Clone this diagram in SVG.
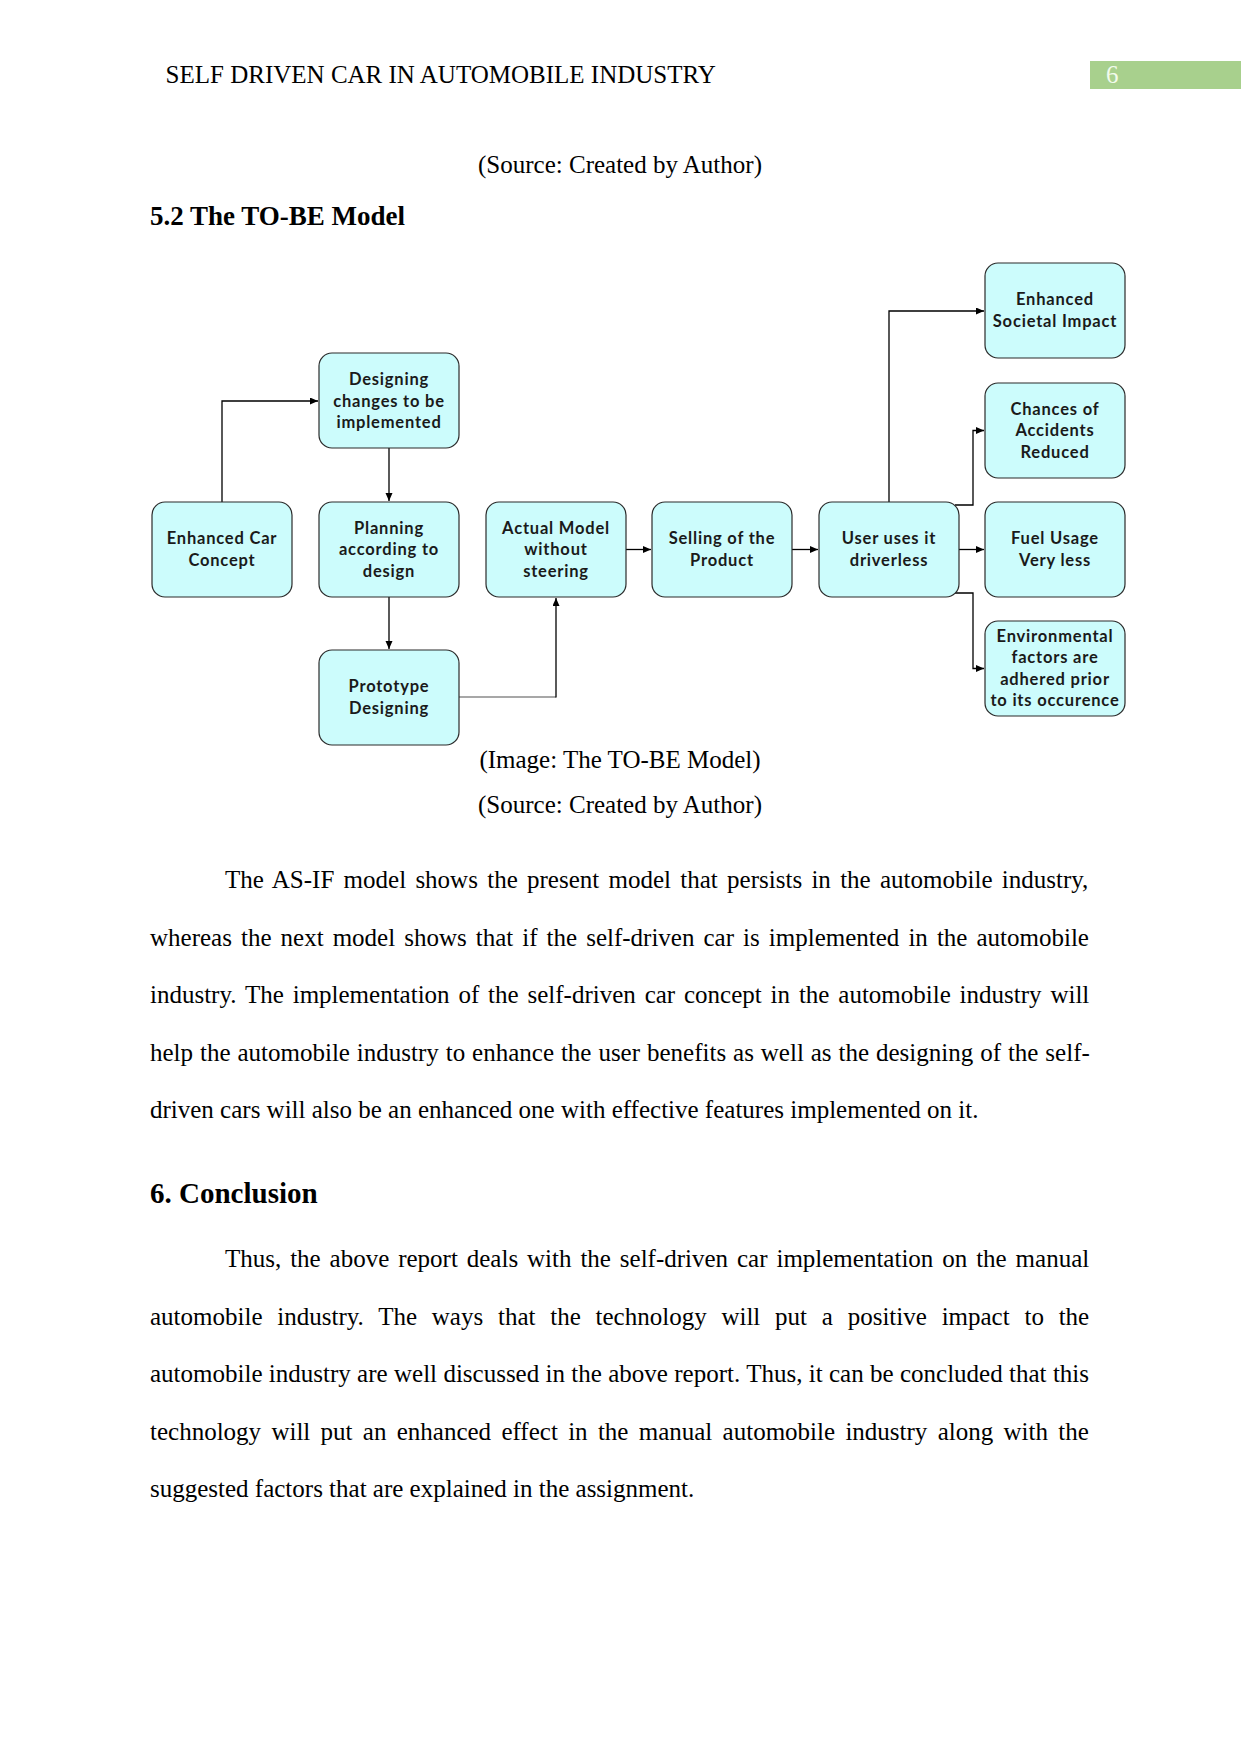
<svg xmlns="http://www.w3.org/2000/svg" width="1241" height="1754" viewBox="0 0 1241 1754">
<style>
.page{font-family:"Liberation Serif","Times New Roman",serif;font-size:25px;fill:#000}
.bold{font-weight:bold;font-size:27px}
.box{fill:#CCFCFC;stroke:#2b2b2b;stroke-width:1.2}
.lbl{font-family:Lato,"Open Sans",sans-serif;font-weight:bold;font-size:16.5px;fill:#1a1a1a;text-anchor:middle;letter-spacing:0.8px}
.conn{fill:none;stroke:#000;stroke-width:1.3}
</style>
<defs>
<marker id="arr" markerUnits="userSpaceOnUse" markerWidth="9" markerHeight="8" refX="8" refY="3.5" orient="auto">
<path d="M0,0 L8,3.5 L0,7 z" fill="#000"/>
</marker>
</defs>
<rect width="1241" height="1754" fill="#fff"/>
<g id="header">
<text class="page" x="165.6" y="83">SELF DRIVEN CAR IN AUTOMOBILE INDUSTRY</text>
<rect x="1090" y="61" width="151" height="28" fill="#A8D08D"/>
<text class="page" x="1106" y="83" style="fill:#F2FBEC">6</text>
</g>
<text class="page" x="620" y="173" text-anchor="middle">(Source: Created by Author)</text>
<text class="page bold" x="150" y="225">5.2 The TO-BE Model</text>

<g id="connectors">
<path class="conn" d="M222,502 V401 H318" marker-end="url(#arr)"/>
<path class="conn" d="M389,448 V501" marker-end="url(#arr)"/>
<path class="conn" d="M389,597 V649" marker-end="url(#arr)"/>
<path class="conn" d="M459,697 H556" style="stroke:#8a8a8a"/>
<path class="conn" d="M556,697.6 V598" marker-end="url(#arr)"/>
<path class="conn" d="M626,549.5 H651" marker-end="url(#arr)"/>
<path class="conn" d="M792,549.5 H818" marker-end="url(#arr)"/>
<path class="conn" d="M889,502 V311 H984" marker-end="url(#arr)"/>
<path class="conn" d="M955,505 H973 V430.5 H984" marker-end="url(#arr)"/>
<path class="conn" d="M959,549.5 H984" marker-end="url(#arr)"/>
<path class="conn" d="M955,593 H973 V668.5 H984" marker-end="url(#arr)"/>
</g>

<g id="n-enhanced-car">
<rect class="box" x="152" y="502" width="140" height="95" rx="13"/>
<text class="lbl" x="222" y="544">Enhanced Car</text>
<text class="lbl" x="222" y="566">Concept</text>
</g>
<g id="n-designing-changes">
<rect class="box" x="319" y="353" width="140" height="95" rx="13"/>
<text class="lbl" x="389" y="385">Designing</text>
<text class="lbl" x="389" y="406.5">changes to be</text>
<text class="lbl" x="389" y="428">implemented</text>
</g>
<g id="n-planning">
<rect class="box" x="319" y="502" width="140" height="95" rx="13"/>
<text class="lbl" x="389" y="533.5">Planning</text>
<text class="lbl" x="389" y="555">according to</text>
<text class="lbl" x="389" y="576.5">design</text>
</g>
<g id="n-prototype">
<rect class="box" x="319" y="650" width="140" height="95" rx="13"/>
<text class="lbl" x="389" y="692">Prototype</text>
<text class="lbl" x="389" y="714">Designing</text>
</g>
<g id="n-actual-model">
<rect class="box" x="486" y="502" width="140" height="95" rx="13"/>
<text class="lbl" x="556" y="533.5">Actual Model</text>
<text class="lbl" x="556" y="555">without</text>
<text class="lbl" x="556" y="576.5">steering</text>
</g>
<g id="n-selling">
<rect class="box" x="652" y="502" width="140" height="95" rx="13"/>
<text class="lbl" x="722" y="544">Selling of the</text>
<text class="lbl" x="722" y="566">Product</text>
</g>
<g id="n-user">
<rect class="box" x="819" y="502" width="140" height="95" rx="13"/>
<text class="lbl" x="889" y="544">User uses it</text>
<text class="lbl" x="889" y="566">driverless</text>
</g>
<g id="n-societal">
<rect class="box" x="985" y="263" width="140" height="95" rx="13"/>
<text class="lbl" x="1055" y="305">Enhanced</text>
<text class="lbl" x="1055" y="327">Societal Impact</text>
</g>
<g id="n-accidents">
<rect class="box" x="985" y="383" width="140" height="95" rx="13"/>
<text class="lbl" x="1055" y="414.5">Chances of</text>
<text class="lbl" x="1055" y="436">Accidents</text>
<text class="lbl" x="1055" y="457.5">Reduced</text>
</g>
<g id="n-fuel">
<rect class="box" x="985" y="502" width="140" height="95" rx="13"/>
<text class="lbl" x="1055" y="544">Fuel Usage</text>
<text class="lbl" x="1055" y="566">Very less</text>
</g>
<g id="n-environmental">
<rect class="box" x="985" y="621" width="140" height="95" rx="13"/>
<text class="lbl" x="1055" y="641.75">Environmental</text>
<text class="lbl" x="1055" y="663.25">factors are</text>
<text class="lbl" x="1055" y="684.75">adhered prior</text>
<text class="lbl" x="1055" y="706.25">to its occurence</text>
</g>

<text class="page" x="620" y="768" text-anchor="middle">(Image: The TO-BE Model)</text>
<text class="page" x="620" y="813" text-anchor="middle">(Source: Created by Author)</text>

<g id="body1">
<text class="page" x="225" y="888" word-spacing="3.05">The AS-IF model shows the present model that persists in the automobile industry,</text>
<text class="page" x="150" y="945.5" word-spacing="2.8">whereas the next model shows that if the self-driven car is implemented in the automobile</text>
<text class="page" x="150" y="1003" word-spacing="2.6">industry. The implementation of the self-driven car concept in the automobile industry will</text>
<text class="page" x="150" y="1060.5" word-spacing="0.68">help the automobile industry to enhance the user benefits as well as the designing of the self-</text>
<text class="page" x="150" y="1118">driven cars will also be an enhanced one with effective features implemented on it.</text>
</g>
<text class="page bold" x="150" y="1203" style="font-size:29px">6. Conclusion</text>
<g id="body2">
<text class="page" x="225" y="1267" word-spacing="2.65">Thus, the above report deals with the self-driven car implementation on the manual</text>
<text class="page" x="150" y="1324.5" word-spacing="8.53">automobile industry. The ways that the technology will put a positive impact to the</text>
<text class="page" x="150" y="1382" word-spacing="0.1">automobile industry are well discussed in the above report. Thus, it can be concluded that this</text>
<text class="page" x="150" y="1439.5" word-spacing="4.05">technology will put an enhanced effect in the manual automobile industry along with the</text>
<text class="page" x="150" y="1497">suggested factors that are explained in the assignment.</text>
</g>
</svg>
